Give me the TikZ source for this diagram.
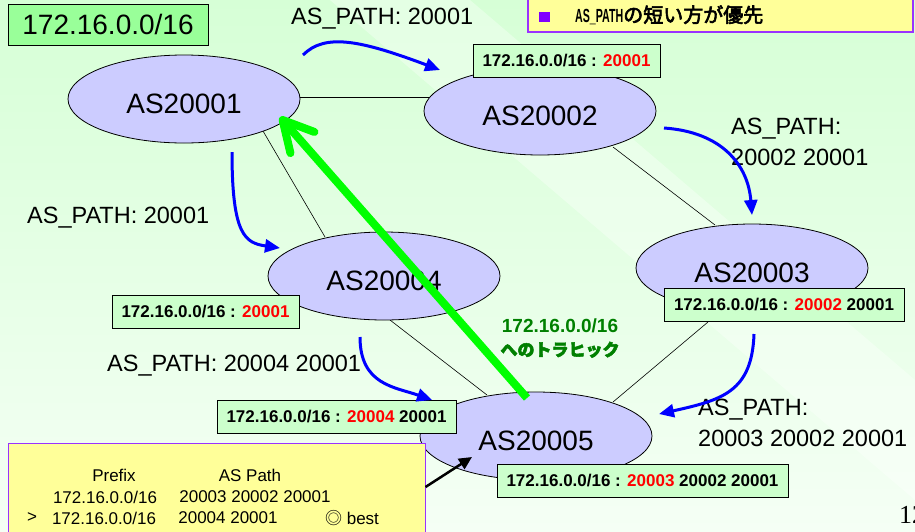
\documentclass[tikz,border=0pt]{standalone}
\usepackage{fontspec}
\usepackage{graphicx}
\setmainfont{Liberation Sans}
\newfontfamily\jp{Noto Sans CJK JP}
\newfontfamily\jpb{Noto Sans CJK JP}[FakeBold=3]
\newfontfamily\serifn{Liberation Serif}
\usetikzlibrary{shapes.geometric,arrows.meta,calc}
\pgfdeclarelayer{back}
\pgfdeclarelayer{bg}
\pgfsetlayers{back,bg,main}
\definecolor{asfill}{RGB}{204,204,255}
\definecolor{lblfill}{RGB}{204,255,204}
\definecolor{tagfill}{RGB}{153,255,153}
\definecolor{noteyellow}{RGB}{255,255,153}
\definecolor{notepurple}{RGB}{153,51,255}
\definecolor{bulletc}{RGB}{128,0,255}
\definecolor{trafgreen}{RGB}{0,128,0}
\definecolor{arrowgreen}{RGB}{0,255,0}
\definecolor{bgtop}{RGB}{214,255,214}
\definecolor{bgbot}{RGB}{245,255,245}
\tikzset{
  asnode/.style={ellipse, draw=black, line width=0.8pt, fill=asfill,
    minimum width=232pt, minimum height=88pt, inner sep=0pt,
    text height=28pt, text depth=0pt, font=\fontsize{28}{30}\selectfont},
  lbl/.style={draw=black, line width=0.8pt, fill=lblfill, inner sep=0pt,
    minimum height=33pt, font=\bfseries\fontsize{17}{19}\selectfont},
  pathtxt/.style={inner sep=0pt, anchor=west, align=left,
    font=\fontsize{23.5}{31}\selectfont},
  link/.style={draw=black, line width=0.6pt},
  bluearr/.style={draw=blue, line width=3pt, -{Triangle[length=15pt,width=13pt]}},
  tbltxt/.style={inner sep=0pt, font=\fontsize{17}{19}\selectfont}
}
\begin{document}
\begin{tikzpicture}[x=1pt,y=-1pt]
\useasboundingbox (0,0) rectangle (915,531);
\begin{pgfonlayer}{back}
  \shade[top color=bgtop, bottom color=bgbot] (0,0) rectangle (915,531);
  \fill[white, opacity=0.35] (330,0) -- (470,0) -- (915,380) -- (915,500) -- cycle;
\end{pgfonlayer}

% AS nodes
\node[asnode] (AS1) at (184,99) {AS20001};
\node[asnode] (AS2) at (540,111) {AS20002};
\node[asnode] (AS3) at (752,268) {AS20003};
\node[asnode] (AS4) at (384,276) {AS20004};
\node[asnode] (AS5) at (536,436) {AS20005};

% links
\begin{pgfonlayer}{bg}
  \draw[link] ($(AS1.center)+(100,-2)$) -- ($(AS2.center)+(-100,-14)$);
  \draw[link] ($(AS1.center)+(79,32)$) -- ($(AS4.center)+(-59,-39)$);
  \draw[link] ($(AS4.center)+(6,44)$) -- ($(AS5.center)+(-49,-41)$);
  \draw[link] ($(AS2.center)+(73,36)$) -- ($(AS3.center)+(-37,-43)$);
  \draw[link] ($(AS3.center)+(-44,54)$) -- ($(AS5.center)+(77,-34)$);
\end{pgfonlayer}

% prefix tag
\node[draw=black, line width=0.8pt, fill=tagfill, minimum width=200pt, minimum height=41pt,
  inner sep=0pt, font=\fontsize{28}{30}\selectfont] (tag) at (108,24.5) {172.16.0.0/16};

% title note
\node[draw=notepurple, line width=1.2pt, fill=noteyellow, minimum width=385pt,
  minimum height=37pt, inner sep=0pt] (title) at (720.5,13.5) {};
\fill[bulletc] (539,12) rectangle (550,22);
\node[inner sep=0pt, anchor=west] (titletext) at (575,15)
  {\scalebox{0.56}[1]{\bfseries\fontsize{19}{21}\selectfont AS\_PATH}{\jpb\fontsize{20}{22}\selectfont の短い方が優先}};

% route labels
\node[lbl, minimum width=187pt] (L2) at (566.5,60.5) {172.16.0.0/16 : \textcolor{red}{20001}};
\node[lbl, minimum width=187pt] (L4) at (205.5,312) {172.16.0.0/16 : \textcolor{red}{20001}};
\node[lbl, minimum width=240pt] (L3) at (784,304.5) {172.16.0.0/16 : \textcolor{red}{20002} 20001};
\node[lbl, minimum width=239pt] (L5a) at (336.5,416.5) {172.16.0.0/16 : \textcolor{red}{20004} 20001};
\node[lbl, minimum width=291pt] (L5b) at (642.5,480.5) {172.16.0.0/16 : \textcolor{red}{20003} 20002 20001};

% AS_PATH texts
\node[pathtxt] (P1) at (291,18.5) {AS\_PATH: 20001};
\node[pathtxt] (P2) at (27,218) {AS\_PATH: 20001};
\node[pathtxt] (P3) at (731,141.5) {AS\_PATH:\\20002 20001};
\node[pathtxt] (P4) at (107,366) {AS\_PATH: 20004 20001};
\node[pathtxt] (P5) at (698,422.5) {AS\_PATH:\\20003 20002 20001};

% blue advertisement arrows
\coordinate (b1s) at (303,55);
\coordinate (b1e) at (440,70);
\draw[bluearr] (b1s) .. controls (325,33) and (360,40) .. (b1e);
\coordinate (b2s) at (232,152);
\coordinate (b2e) at (280,248);
\draw[bluearr] (b2s) .. controls (232,235) and (245,243) .. (b2e);
\coordinate (b3s) at (664,128);
\coordinate (b3e) at (752,215);
\draw[bluearr] (b3s) .. controls (722,132) and (748,165) .. (b3e);
\coordinate (b4s) at (360,337);
\coordinate (b4e) at (432,400);
\draw[bluearr] (b4s) .. controls (360,385) and (395,387) .. (b4e);
\coordinate (b5s) at (754,334);
\coordinate (b5e) at (659,414);
\draw[bluearr] (b5s) .. controls (752,392) and (722,400) .. (b5e);

% traffic label
\node[inner sep=0pt, align=center, text=trafgreen, font=\bfseries\fontsize{19}{24}\selectfont] (traf) at (560,338)
  {172.16.0.0/16\\{\jpb\fontsize{17}{20}\selectfont へのトラヒック}};

% table note
\node[draw=notepurple, line width=1pt, fill=noteyellow, minimum width=417pt,
  minimum height=102pt, inner sep=0pt] (tbl) at (216.5,494) {};
\node[tbltxt] (h1) at (114,475) {Prefix};
\node[tbltxt] (h2) at (250,475) {AS Path};
\node[tbltxt] (r1a) at (105,497) {172.16.0.0/16};
\node[tbltxt] (r1b) at (255,497) {20003 20002 20001};
\node[tbltxt] (r2m) at (32,518) {>};
\node[tbltxt] (r2a) at (104,518) {172.16.0.0/16};
\node[tbltxt] (r2b) at (228,518) {20004 20001};
\node[tbltxt] (r2c) at (352,518) {{\jp ◎} best};
\draw[line width=2.5pt, -{Triangle[length=13pt,width=12pt]}] ($(tbl.east)+(0,-7)$) -- ($(AS5.center)+(-64,21)$);

% green traffic arrow
\draw[line width=8pt, arrowgreen, -{Straight Barb[length=30pt,width=32pt,line width=8pt,round]}]
  ($(AS5.center)+(-9,-38)$) -- ($(AS1.center)+(96,18)$);

% page number
\node[inner sep=0pt, anchor=west, font=\serifn\fontsize{26}{28}\selectfont] (pg) at (899,515) {12};
\end{tikzpicture}
\end{document}
